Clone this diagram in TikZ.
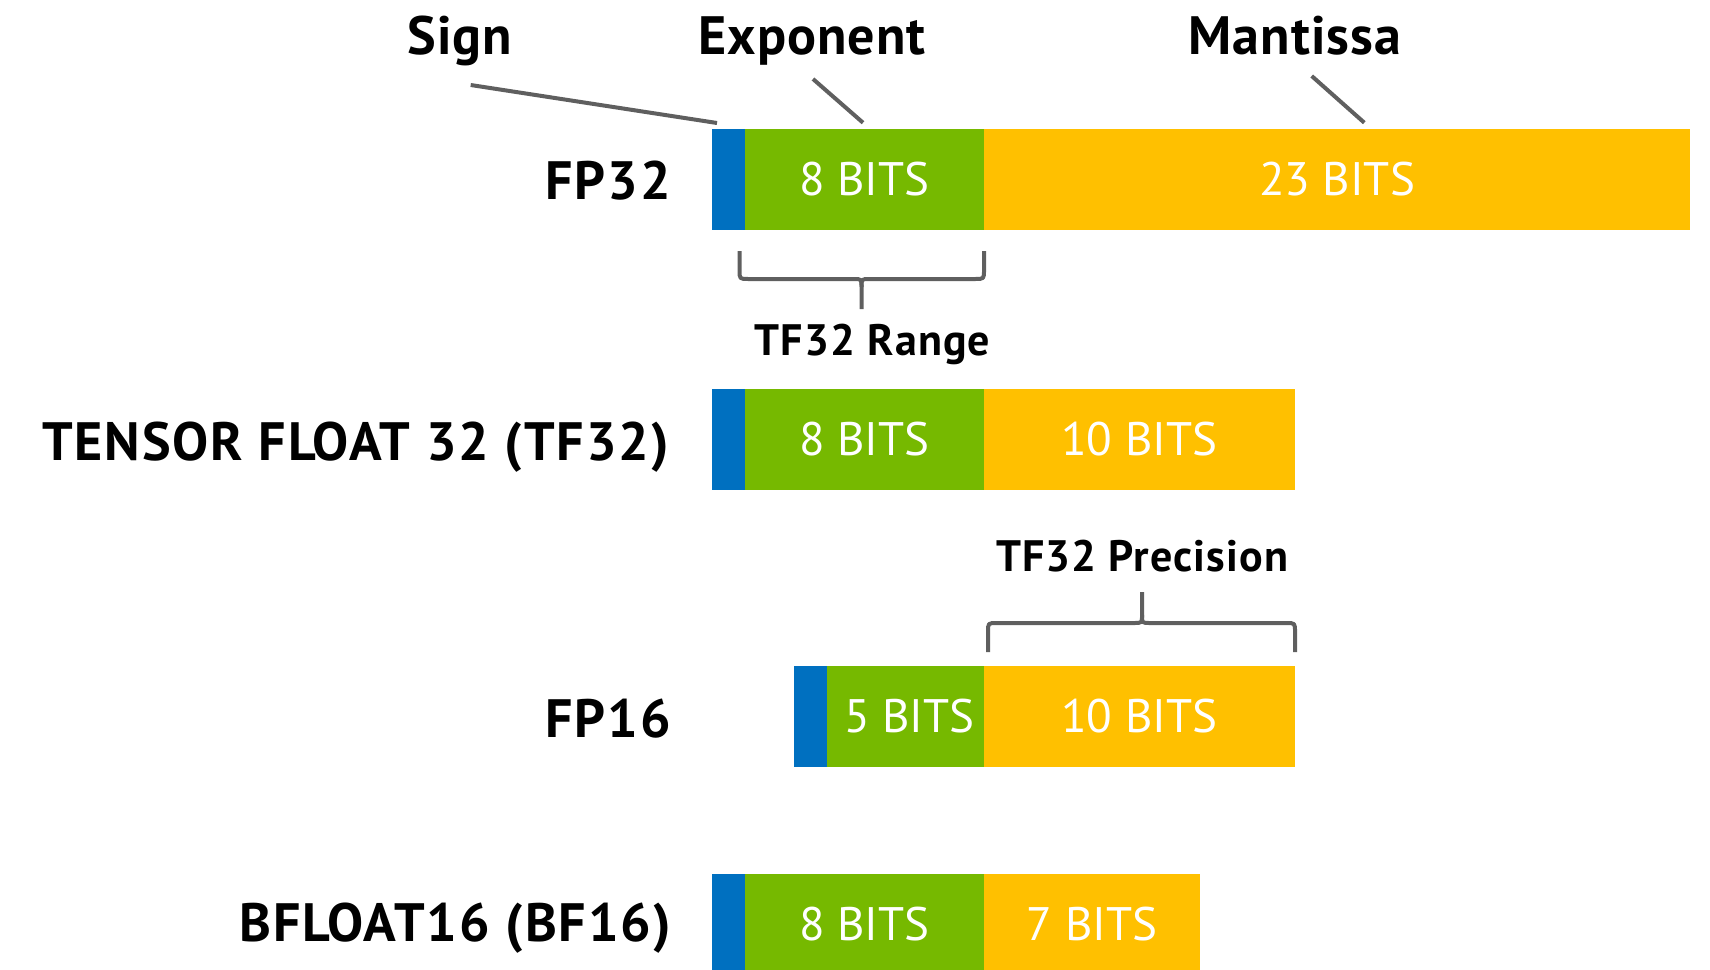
\documentclass[tikz,border=0pt]{standalone}
\usepackage{fontspec}
\setmainfont{PT Sans}
\definecolor{signblue}{HTML}{0070C0}
\definecolor{expgreen}{HTML}{76B900}
\definecolor{mantyellow}{HTML}{FFC000}
\definecolor{leadgray}{HTML}{5F5F5F}
\tikzset{
  seg/.style={inner sep=0pt, outer sep=0pt, minimum height=101pt, anchor=north west,
              text=white, font=\fontsize{47}{47}\selectfont},
  signbit/.style={seg, fill=signblue, minimum width=33pt},
  expbits/.style={seg, fill=expgreen},
  manbits/.style={seg, fill=mantyellow},
  fmtlabel/.style={font=\bfseries\fontsize{54}{54}\selectfont\addfontfeature{LetterSpace=3.5},
                   anchor=base east, inner sep=0pt},
  header/.style={font=\bfseries\fontsize{54}{54}\selectfont\addfontfeature{LetterSpace=2},
                 anchor=base, inner sep=0pt},
  note/.style={font=\bfseries\fontsize{44}{44}\selectfont\addfontfeature{LetterSpace=2.5},
               anchor=base, inner sep=0pt},
  lead/.style={draw=leadgray, line width=4pt},
  bracket/.style={draw=leadgray, line width=4pt, line join=round}
}
\begin{document}
\begin{tikzpicture}[x=1pt, y=-1pt]
\useasboundingbox (0,0) rectangle (1710,969);
\clip (0,0) rectangle (1710,969);

% field headers
\node[header] (hsign) at (460,54) {Sign};
\node[header] (hexp)  at (812,54) {Exponent};
\node[header] (hman)  at (1295,54) {Mantissa};

% FP32
\node[fmtlabel] (lfp32) at (671,199) {FP32};
\node[signbit] (fp32s) at (712,128.5) {};
\node[expbits, minimum width=239pt] (fp32e) at (745,128.5) {8 BITS};
\node[manbits, minimum width=706pt] (fp32m) at (984,128.5) {23 BITS};

% leader lines from the headers
\coordinate (sA) at (470.7,85);   \coordinate (sB) at (717,123);
\coordinate (eA) at (813,79);     \coordinate (eB) at (863,122.7);
\coordinate (mA) at (1311.7,76);  \coordinate (mB) at (1364.3,122.7);
\draw[lead] (sA) -- (sB);
\draw[lead] (eA) -- (eB);
\draw[lead] (mA) -- (mB);

% range bracket under the exponent
\draw[bracket] (739.5,251) -- (739.5,270) .. controls (739.5,279) .. (748.5,279)
  -- (853.5,279) .. controls (861.5,279) .. (861.5,287) -- (861.5,309);
\draw[bracket] (984,251) -- (984,270) .. controls (984,279) .. (975,279)
  -- (869.5,279) .. controls (861.5,279) .. (861.5,287);
\node[note] (nrange) at (872.5,355) {TF32 Range};

% TF32
\node[fmtlabel] (ltf32) at (669,460) {TENSOR FLOAT 32 (TF32)};
\node[signbit] (tf32s) at (712,389) {};
\node[expbits, minimum width=239pt] (tf32e) at (745,389) {8 BITS};
\node[manbits, minimum width=310.5pt] (tf32m) at (984,389) {10 BITS};

% precision bracket over the mantissa
\node[note] (nprec) at (1142,571.5) {TF32 Precision};
\draw[bracket] (988,652) -- (988,632) .. controls (988,623) .. (997,623)
  -- (1134,623) .. controls (1142,623) .. (1142,615) -- (1142,592);
\draw[bracket] (1295,652) -- (1295,632) .. controls (1295,623) .. (1286,623)
  -- (1150,623) .. controls (1142,623) .. (1142,615);

% FP16
\node[fmtlabel] (lfp16) at (671,737) {FP16};
\node[signbit] (fp16s) at (794,666) {};
\node[expbits, minimum width=157pt] (fp16e) at (827,666) {\hspace*{8pt}5 BITS};
\node[manbits, minimum width=310.5pt] (fp16m) at (984,666) {10 BITS};

% BF16
\node[fmtlabel] (lbf16) at (671,941.5) {BFLOAT16 (BF16)};
\node[signbit] (bf16s) at (712,873.6) {};
\node[expbits, minimum width=239pt] (bf16e) at (745,873.6) {8 BITS};
\node[manbits, minimum width=216pt] (bf16m) at (984,873.6) {7 BITS};
\end{tikzpicture}
\end{document}
